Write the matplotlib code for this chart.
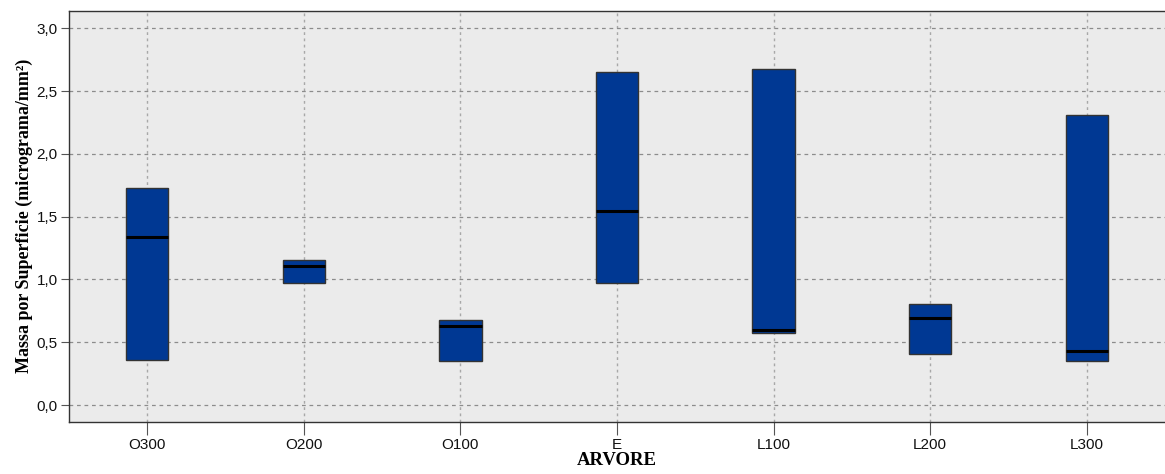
import matplotlib
matplotlib.use("Agg")
import matplotlib.pyplot as plt
from matplotlib.ticker import FuncFormatter

categories = ["O300", "O200", "O100", "E", "L100", "L200", "L300"]
q1 = [0.356, 0.968, 0.348, 0.971, 0.573, 0.406, 0.350]
median = [1.339, 1.106, 0.626, 1.549, 0.594, 0.695, 0.427]
q3 = [1.729, 1.156, 0.674, 2.655, 2.673, 0.801, 2.313]

fig = plt.figure(figsize=(11.65, 4.74), dpi=100)
ax = fig.add_axes([0.0592, 0.1103, 0.9408, 0.8665])
ax.set_facecolor("#EBEBEB")
fig.patch.set_facecolor("white")

x = list(range(len(categories)))
ax.set_xlim(-0.5, len(categories) - 0.5)
ax.set_ylim(-0.133, 3.138)

ax.set_yticks([0.0, 0.5, 1.0, 1.5, 2.0, 2.5, 3.0])
ax.yaxis.set_major_formatter(FuncFormatter(lambda v, p: f"{v:.1f}".replace(".", ",")))
ax.set_xticks(x)
ax.set_xticklabels(categories)

ax.grid(axis="y", color="#8C8C8C", linestyle=(0, (3, 3)), linewidth=0.9, zorder=0)
ax.grid(axis="x", color="#A8A8A8", linestyle=(0, (2, 2.5)), linewidth=1.0, zorder=0)
ax.set_axisbelow(True)

heights = [b - a for a, b in zip(q1, q3)]
ax.bar(x, heights, bottom=q1, width=0.27, color="#003893", edgecolor="#333333",
       linewidth=1.0, zorder=3)
ax.hlines(median, [xi - 0.135 for xi in x], [xi + 0.135 for xi in x],
          colors="black", linewidth=2.2, zorder=4)

for s in ["left", "bottom", "top"]:
    ax.spines[s].set_color("#333333")
    ax.spines[s].set_linewidth(1.0)
ax.spines["right"].set_visible(False)

ax.tick_params(axis="y", direction="out", length=6, color="#555555", labelsize=11,
               labelcolor="#111111", pad=2)
ax.tick_params(axis="x", direction="out", length=9, color="#555555", labelsize=11,
               labelcolor="#111111", pad=3)
for lab in ax.get_xticklabels() + ax.get_yticklabels():
    lab.set_family(["Liberation Sans", "DejaVu Sans"])

ax.set_ylabel("Massa por Superficie (micrograma/mm²)", family=["Liberation Serif", "DejaVu Serif"],
              fontweight="bold", fontsize=13, labelpad=3)
ax.set_xlabel("ARVORE", family=["Liberation Serif", "DejaVu Serif"],
              fontweight="bold", fontsize=13.5, labelpad=0)

fig.savefig("out.png", dpi=100)
